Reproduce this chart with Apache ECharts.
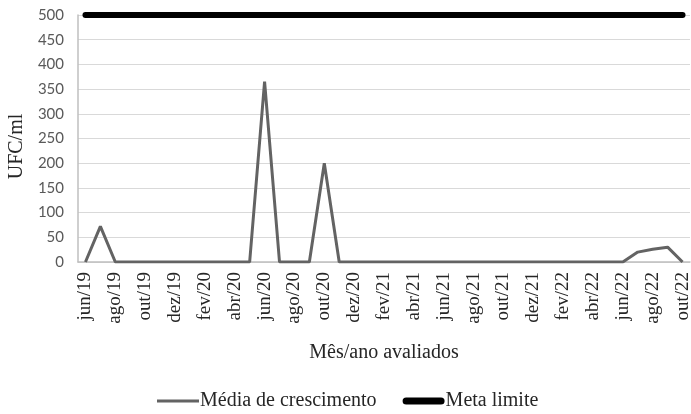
<!DOCTYPE html>
<html>
<head>
<meta charset="utf-8">
<script src="https://cdn.jsdelivr.net/npm/echarts@6/dist/echarts.min.js"></script>
<style>html,body{margin:0;padding:0;background:#fff}#c{width:691px;height:414px}</style>
</head>
<body>
<div id="c"></div>
<script>
const categories = [
 'jun/19','jul/19','ago/19','set/19','out/19','nov/19','dez/19','jan/20','fev/20','mar/20','abr/20','mai/20',
 'jun/20','jul/20','ago/20','set/20','out/20','nov/20','dez/20','jan/21','fev/21','mar/21','abr/21','mai/21',
 'jun/21','jul/21','ago/21','set/21','out/21','nov/21','dez/21','jan/22','fev/22','mar/22','abr/22','mai/22',
 'jun/22','jul/22','ago/22','set/22','out/22'];
const mediaCrescimento = [
 0,72,0,0,0,0,0,0,0,0,0,0,
 365,0,0,0,200,0,0,0,0,0,0,0,
 0,0,0,0,0,0,0,0,0,0,0,0,
 0,20,26,30,0];
const metaLimite = categories.map(() => 500);
const yTicks = { min: 0, max: 500, interval: 50 };

const serif = '"Liberation Serif", "DejaVu Serif", serif';
const chart = echarts.init(document.getElementById('c'));
chart.setOption({
  animation: false,
  grid: { left: 78, right: 1, top: 15, bottom: 152, containLabel: false, outerBoundsMode: 'none' },
  xAxis: {
    type: 'category',
    data: categories,
    boundaryGap: true,
    name: 'Mês/ano avaliados',
    nameLocation: 'middle',
    nameGap: 81,
    nameTextStyle: { fontFamily: serif, fontSize: 20, color: '#262626' },
    axisLine: { lineStyle: { color: '#bfbfbf', width: 1.5 } },
    axisTick: { show: false },
    axisLabel: { interval: 1, rotate: 90, fontFamily: serif, fontSize: 19, color: '#262626', margin: 10 }
  },
  yAxis: {
    type: 'value',
    min: yTicks.min, max: yTicks.max, interval: yTicks.interval,
    name: 'UFC/ml',
    nameLocation: 'middle',
    nameGap: 48,
    nameTextStyle: { fontFamily: serif, fontSize: 20, color: '#262626', padding: [0, 16, 0, 0] },
    axisLine: { show: true, lineStyle: { color: '#bfbfbf', width: 1.5 } },
    axisTick: { show: false },
    axisLabel: { fontFamily: 'Lato, "Open Sans", sans-serif', fontSize: 15, color: '#595959', margin: 14 },
    splitLine: { lineStyle: { color: '#d9d9d9', width: 1 } }
  },
  legend: {
    left: 152, top: 386,
    itemWidth: 42, itemHeight: 14, itemGap: 26,
    textStyle: { fontFamily: serif, fontSize: 20, color: '#262626', padding: [0,0,0,-4] },
    data: [
      { name: 'Média de crescimento', icon: 'path://M0,0 L40,0 L40,3 L0,3 Z' },
      { name: 'Meta limite', icon: 'path://M3,0 L37,0 A3.5,3.5 0 0 1 37,7 L3,7 A3.5,3.5 0 0 1 3,0 Z' }
    ]
  },
  series: [
    { name: 'Média de crescimento', type: 'line', data: mediaCrescimento, symbol: 'none',
      lineStyle: { color: '#636363', width: 3 }, itemStyle: { color: '#636363' } },
    { name: 'Meta limite', type: 'line', data: metaLimite, symbol: 'none',
      lineStyle: { color: '#000000', width: 6, cap: 'round' }, itemStyle: { color: '#000' } }
  ]
});
</script>
</body>
</html>
